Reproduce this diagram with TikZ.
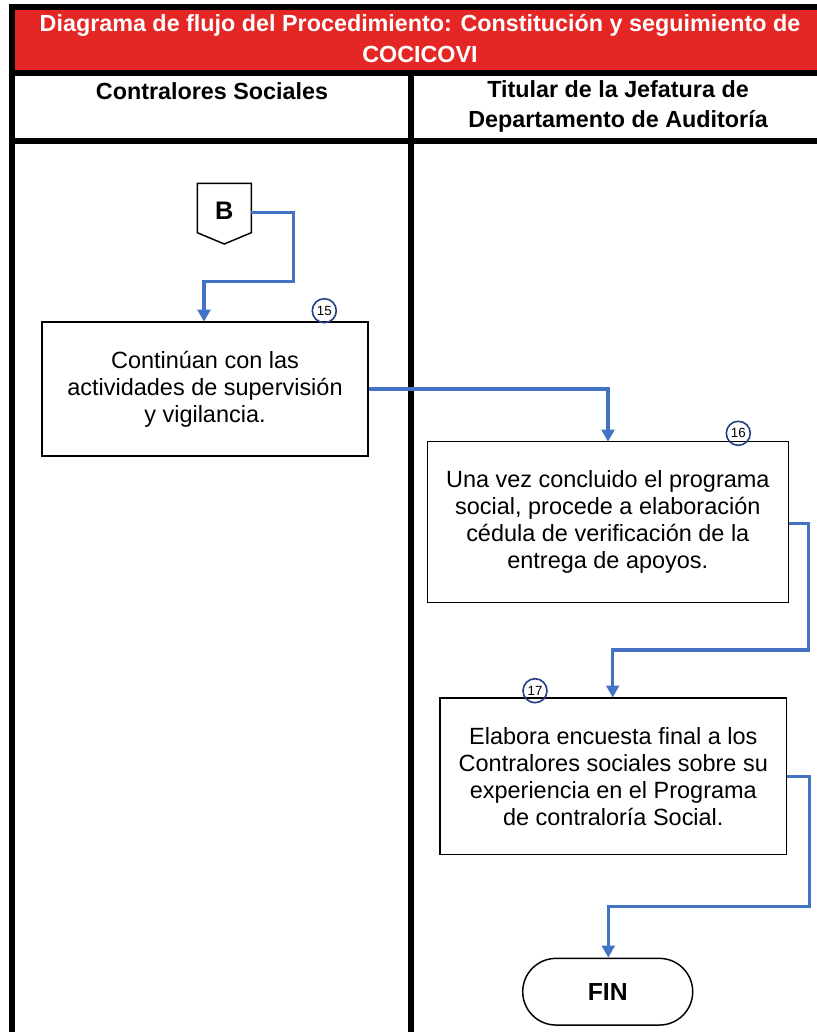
\documentclass[tikz,border=0pt]{standalone}
\usepackage{fontspec}
\setmainfont{Liberation Sans}
\usetikzlibrary{arrows.meta,calc,shapes.misc}
\definecolor{hdrred}{RGB}{228,38,36}
\definecolor{flowblue}{RGB}{68,114,196}
\definecolor{numblue}{RGB}{36,64,130}
\begin{document}
\begin{tikzpicture}[x=0.75pt,y=-0.75pt,
  hdrtitle/.style={text=white,font=\fontsize{17.5}{23.5}\selectfont\bfseries,align=center,inner sep=0pt},
  colhead/.style={text=black,font=\fontsize{17.5}{22.5}\selectfont\bfseries,align=center,inner sep=0pt},
  procbox/.style={draw=black,line width=1.1pt,fill=white,align=center,inner sep=0pt,
    font=\fontsize{17.6}{20.3}\selectfont},
  numcirc/.style={circle,draw=numblue,line width=1.2pt,minimum size=18pt,inner sep=0pt,
    font=\fontsize{10}{11}\selectfont},
  flow/.style={draw=flowblue,line width=2.4pt,-{Triangle[length=9pt,width=9.5pt]}},
  termbox/.style={draw=black,line width=1.1pt,rounded rectangle,inner sep=0pt,
    font=\fontsize{18.5}{20}\selectfont\bfseries},
  connlabel/.style={font=\fontsize{19}{20}\selectfont\bfseries,inner sep=0pt}
]
\useasboundingbox (0,0) rectangle (817,1032);
% frame
\fill[hdrred] (12,9) rectangle (817,72);
\fill[black] (9,4) rectangle (817,10);
\fill[black] (9,4) rectangle (15,1032);
\fill[black] (12,70) rectangle (817,75.5);
\fill[black] (12,137.5) rectangle (817,143.5);
\fill[black] (408,72) rectangle (414,1032);
% header texts
\node[hdrtitle] (title) at (420,38.5) {Diagrama de flujo del Procedimiento: Constitución y seguimiento de\\COCICOVI};
\node[colhead] (lane1) at (212,91) {Contralores Sociales};
\node[colhead] (lane2) at (618,106) {Titular de la Jefatura de\\Departamento de Auditoría};
% off-page connector B
\draw[black,line width=1.1pt,fill=white] (197.3,183.3) -- (251.3,183.3) -- (251.3,232.7) -- (224.3,244) -- (197.3,232.7) -- cycle;
\node[connlabel,minimum width=40pt,minimum height=40pt] (B) at (224.3,211) {B};
\coordinate (Bout) at (251.3,212.7);
% process boxes
\node[procbox,minimum width=244.5pt,minimum height=100.5pt] (p15) at (205,389) {Continúan con las\\actividades de supervisión\\y vigilancia.};
\node[procbox,minimum width=270.75pt,minimum height=120.5pt] (p16) at (607.8,522) {Una vez concluido el programa\\social, procede a elaboración\\cédula de verificación de la\\entrega de apoyos.};
\node[procbox,minimum width=260pt,minimum height=117.5pt] (p17) at (613.3,776.3) {Elabora encuesta final a los\\Contralores sociales sobre su\\experiencia en el Programa\\de contraloría Social.};
\node[termbox,minimum width=127.5pt,minimum height=50pt] (fin) at (607.7,991.7) {FIN};
% number circles
\node[numcirc] (n15) at (324.3,310.7) {15};
\node[numcirc] (n16) at (738.3,433.3) {16};
\node[numcirc] (n17) at (535,690.7) {17};
% connectors
\draw[flow] (Bout) -- (293.3,212.7) -- (293.3,281.7) -- (204,281.7) -- (204,321.7);
\draw[flow] (p15.east |- 0,389) -- (608,389) -- (608,441.7);
\draw[flow] (p16.east |- 0,523.3) -- (808.3,523.3) -- (808.3,650) -- (612.7,650) -- (612.7,697.5);
\draw[flow] (p17.east |- 0,776.7) -- (809.3,776.7) -- (809.3,906.7) -- (608.3,906.7) -- (fin.north -| 608.3,0);
\end{tikzpicture}
\end{document}
